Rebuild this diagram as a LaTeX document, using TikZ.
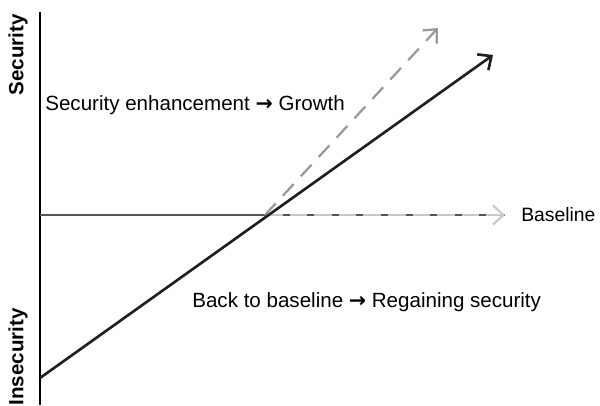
\documentclass[tikz,border=0pt]{standalone}
\usepackage{fontspec}
\setmainfont{Liberation Sans}
\newfontfamily\arrowfont{DejaVu Sans}
\usetikzlibrary{arrows.meta}
\definecolor{dashgray}{HTML}{9A9A9A}
\definecolor{basegray}{HTML}{C8C8C8}
\definecolor{linegray}{HTML}{555555}
\newcommand{\tto}{{\arrowfont\bfseries\char"2192}}
\begin{document}
\begin{tikzpicture} [font = \fontsize{11.7}{14}\selectfont]
	\useasboundingbox (0,0) rectangle (12,8.1);
	\coordinate (bottom) at (0.8,0);
	\coordinate (top) at (0.8,7.86);
	\coordinate (origin) at (0.8,3.8);
	\coordinate (cross) at (5.3,3.8);
	\coordinate (basetip) at (10.1,3.8);
	\coordinate (start) at (0.8,0.54);
	\coordinate (tip) at (9.86,7.0);
	\coordinate (growthtip) at (8.76,7.54);
	\draw [line width = 0.6pt] (bottom) -- (top); %axis
	\draw [linegray, line width = 0.7pt] (origin) -- (basetip);
	\draw [basegray, line width = 1.2pt, dash pattern = on 10pt off 4pt, -{Straight Barb[length = 6pt, width = 11pt]}] (cross) -- (basetip); %baseline
	\draw [dashgray, line width = 1.3pt, dash pattern = on 9pt off 6pt, -{Straight Barb[length = 6pt, width = 11pt]}] (cross) -- (growthtip); %growth
	\draw [black!88, line width = 1.5pt, -{Straight Barb[length = 6pt, width = 11pt]}] (start) -- (tip); %path
	\node [rotate = 90, font = \fontsize{11.7}{14}\selectfont\bfseries] (sec) at (0.36,7.0) {Security};
	\node [rotate = 90, font = \fontsize{11.7}{14}\selectfont\bfseries] (insec) at (0.36,0.96) {Insecurity};
	\node [anchor = west, inner sep = 0pt] (growth) at (0.9,6.0) {Security enhancement \tto{} Growth};
	\node [anchor = west, inner sep = 0pt, font = \fontsize{11}{14}\selectfont] (base) at (10.42,3.8) {Baseline};
	\node [anchor = west, inner sep = 0pt] (back) at (3.84,2.06) {Back to baseline \tto{} Regaining security};
\end{tikzpicture}
\end{document}
